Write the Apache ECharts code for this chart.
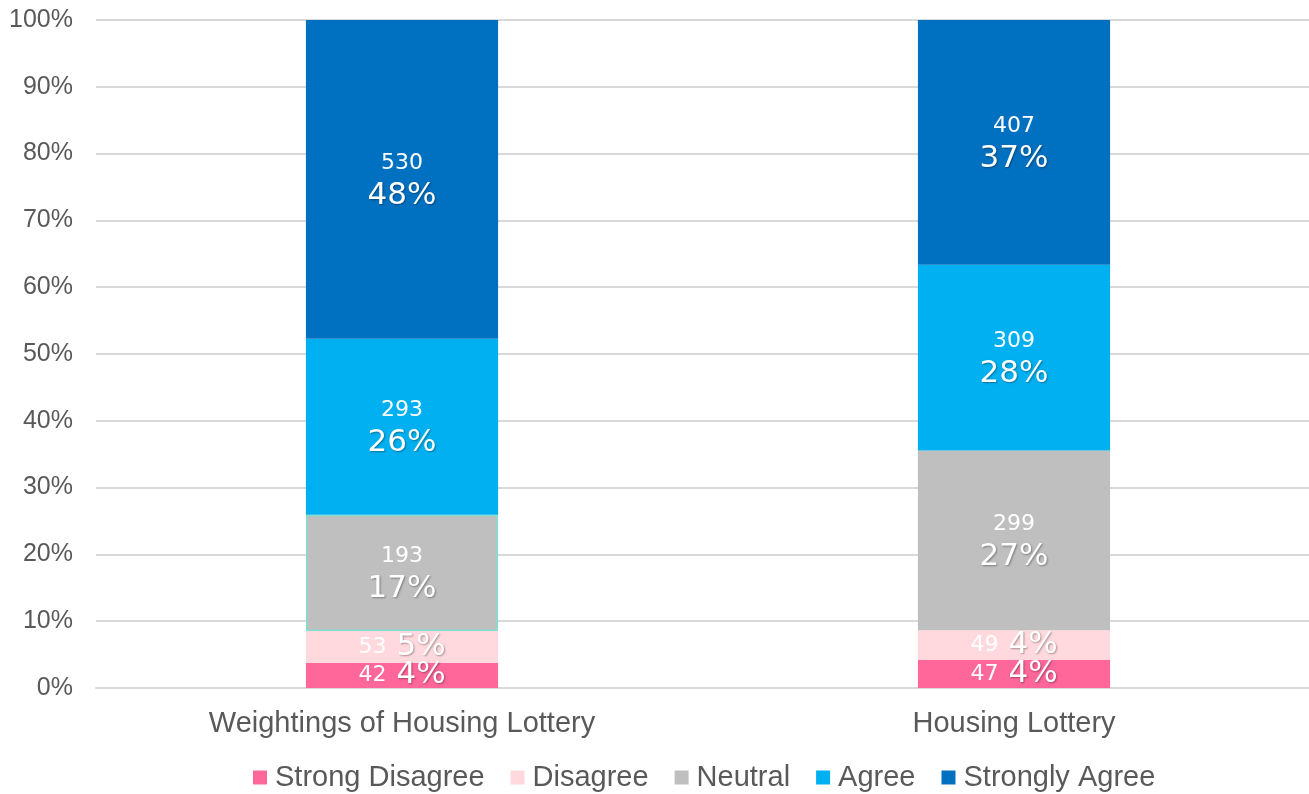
<!DOCTYPE html>
<html>
<head>
<meta charset="utf-8">
<script src="https://cdn.jsdelivr.net/npm/echarts@6/dist/echarts.min.js"></script>
<style>
  html, body { margin: 0; padding: 0; background: #fff; }
  #chart { width: 1309px; height: 794px; }
</style>
</head>
<body>
<div id="chart"></div>
<script>
// categories and response counts
var categories = ['Weightings of Housing Lottery', 'Housing Lottery'];
var seriesNames = ['Strong Disagree', 'Disagree', 'Neutral', 'Agree', 'Strongly Agree'];
var strongDisagree = [42, 47];
var disagree = [53, 49];
var neutral = [193, 299];
var agree = [293, 309];
var stronglyAgree = [530, 407];
var yTicks = [0, 10, 20, 30, 40, 50, 60, 70, 80, 90, 100];

var counts = [strongDisagree, disagree, neutral, agree, stronglyAgree];
var colors = ['#FF6699', '#FFD9DE', '#BFBFBF', '#00B0F0', '#0070C0'];

// totals per category, used for the 100% stack
var totals = categories.map(function (c, i) {
    var s = 0;
    counts.forEach(function (arr) { s += arr[i]; });
    return s;
});

var labelRich = {
    a: { fontFamily: 'DejaVu Sans', fontSize: 22, color: '#fff', lineHeight: 33 },
    b: {
        fontFamily: 'DejaVu Sans', fontSize: 31, color: '#fff', lineHeight: 33,
        textShadowColor: 'rgba(0,0,0,0.35)', textShadowBlur: 2, textShadowOffsetX: 1, textShadowOffsetY: 1
    }
};

var series = counts.map(function (arr, si) {
    var small = si < 2;
    return {
        name: seriesNames[si],
        type: 'bar',
        stack: 'total',
        barWidth: '31.4%',
        itemStyle: { color: colors[si] },
        data: arr.map(function (v, i) {
            var d = { value: v / totals[i] * 100, count: v };
            if (si === 2 && i === 0) {
                d.itemStyle = { borderColor: '#7FE0D0', borderWidth: 1.5 };
            }
            return d;
        }),
        label: {
            show: true,
            position: 'inside',
            rich: labelRich,
            formatter: function (p) {
                var pct = Math.round(p.value) + '%';
                var cnt = p.data.count;
                return small ? '{a|' + cnt + '}   {b|' + pct + '}' : '{a|' + cnt + '}\n{b|' + pct + '}';
            }
        }
    };
});

var chart = echarts.init(document.getElementById('chart'));
chart.setOption({
    animation: false,
    grid: { left: 96, width: 1224, top: 20, bottom: 106, containLabel: false, outerBoundsMode: 'none' },
    legend: {
        bottom: -3,
        left: 248,
        itemWidth: 14,
        itemHeight: 14,
        itemGap: 26,
        icon: 'rect',
        textStyle: { fontFamily: 'Liberation Sans', fontSize: 29, color: '#595959', padding: [0, 0, 0, 3] },
        data: seriesNames
    },
    xAxis: {
        type: 'category',
        data: categories,
        axisLine: { lineStyle: { color: '#D9D9D9', width: 2 } },
        axisTick: { show: false },
        axisLabel: { fontFamily: 'Liberation Sans', fontSize: 29, color: '#595959', margin: 21 }
    },
    yAxis: {
        type: 'value',
        min: yTicks[0],
        max: yTicks[yTicks.length - 1],
        interval: 10,
        axisLine: { show: false },
        axisTick: { show: false },
        splitLine: { lineStyle: { color: '#D9D9D9', width: 2 } },
        axisLabel: {
            fontFamily: 'Liberation Sans', fontSize: 25, color: '#595959', margin: 23,
            formatter: '{value}%'
        }
    },
    series: series
});
</script>
</body>
</html>
